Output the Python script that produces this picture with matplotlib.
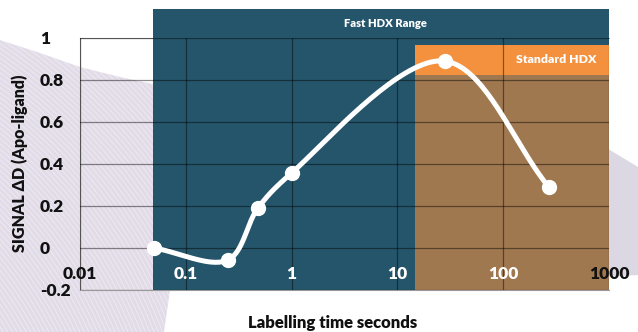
import numpy as np
import matplotlib
matplotlib.use('Agg')
import matplotlib.pyplot as plt
from matplotlib.patches import Polygon, Rectangle, Circle

plt.rcParams['font.family'] = ['Lato', 'DejaVu Sans']
plt.rcParams['font.weight'] = 'heavy'

# data
times = [0.05, 0.25, 0.48, 1.0, 28.0, 270.0]
signal = [0.0, -0.057, 0.19, 0.357, 0.89, 0.29]

xticks = [0.01, 0.1, 1, 10, 100, 1000]
xtick_labels = ['0.01', '0.1', '1', '10', '100', '1000']
yticks = [-0.2, 0, 0.2, 0.4, 0.6, 0.8, 1]
ytick_labels = ['-0.2', '0', '0.2', '0.4', '0.6', '0.8', '1']

fast_range = (0.049, 1000)
standard_range = (14.8, 1000)
standard_header = (0.824, 0.967)
top_band = 1.138

blue = '#25556a'
orange = '#f4913f'
brown = '#a07850'
lavender = '#e2dbe8'

fig = plt.figure(figsize=(6.38, 3.32), dpi=100)

# decorative background, in pixel units
bg = fig.add_axes([0, 0, 1, 1], zorder=0)
bg.set_xlim(0, 638)
bg.set_ylim(332, 0)
bg.axis('off')
swoosh = Polygon([(0, 40), (40, 53), (80, 67), (120, 77), (153, 84), (250, 100),
                  (250, 290), (170, 290), (164, 332), (0, 332)],
                 closed=True, fc=lavender, ec='none')
bg.add_patch(swoosh)
for r in np.arange(250, 760, 4):
    c = Circle((-320, 520), r, fill=False, ec='white', lw=0.5, alpha=0.55)
    bg.add_patch(c)
    c.set_clip_path(swoosh)
bg.add_patch(Polygon([(600, 144), (638, 167), (638, 275), (605, 277)],
                     closed=True, fc='#dcd8e3', ec='none'))

ax = fig.add_axes([80 / 638, 42 / 332, 529 / 638, 252 / 332], zorder=1)
ax.patch.set_alpha(0)
ax.set_xscale('log')
ax.set_xlim(0.01, 1000)
ax.set_ylim(-0.2, 1)

ax.add_patch(Rectangle((fast_range[0], -0.2), fast_range[1] - fast_range[0],
                       top_band + 0.2, fc=blue, ec='none', clip_on=False, zorder=1))
ax.add_patch(Rectangle((standard_range[0], -0.2), standard_range[1] - standard_range[0],
                       standard_header[0] + 0.2, fc=brown, ec='none', zorder=1.1))
ax.add_patch(Rectangle((standard_range[0], standard_header[0]),
                       standard_range[1] - standard_range[0],
                       standard_header[1] - standard_header[0],
                       fc=orange, ec='none', zorder=1.1))

ax.text(np.sqrt(fast_range[0] * fast_range[1]) * 1.1, (1 + top_band) / 2, 'Fast HDX Range',
        color='white', fontsize=8, ha='center', va='center')
ax.text(0.977, sum(standard_header) / 2, 'Standard HDX', color='white', fontsize=8.8,
        ha='right', va='center', transform=ax.get_yaxis_transform())

ax.set_xticks(xticks)
ax.set_xticklabels(xtick_labels)
ax.minorticks_off()
ax.set_yticks(yticks)
ax.set_yticklabels(ytick_labels)
ax.grid(True, color='black', alpha=0.45, lw=0.9)
ax.set_axisbelow(False)
ax.tick_params(length=0)
ax.tick_params(axis='y', pad=29, labelsize=12.5)
ax.tick_params(axis='x', pad=-17, labelsize=12.5)
for lab in ax.get_yticklabels():
    lab.set_horizontalalignment('left')
    lab.set_color('#111111')
for lab, t in zip(ax.get_xticklabels(), xticks):
    lab.set_color('#111111' if t in (0.01, 1000) else 'white')
    lab.set_zorder(5)
ax.spines['right'].set_visible(False)
for s in ['left', 'top', 'bottom']:
    ax.spines[s].set_color('#999999')
    ax.spines[s].set_zorder(0.5)

# smooth curve through the points (centripetal Catmull-Rom in display space)
pts = ax.transData.transform(np.column_stack([times, signal]))
P = np.vstack([2 * pts[0] - pts[1], pts, 2 * pts[-1] - pts[-2]])
curve = []
for i in range(1, len(P) - 2):
    p0, p1, p2, p3 = P[i - 1], P[i], P[i + 1], P[i + 2]
    t0 = 0.0
    t1 = t0 + np.linalg.norm(p1 - p0) ** 0.5
    t2 = t1 + np.linalg.norm(p2 - p1) ** 0.5
    t3 = t2 + np.linalg.norm(p3 - p2) ** 0.5
    tt = np.linspace(t1, t2, 40)[:, None]
    a1 = (t1 - tt) / (t1 - t0) * p0 + (tt - t0) / (t1 - t0) * p1
    a2 = (t2 - tt) / (t2 - t1) * p1 + (tt - t1) / (t2 - t1) * p2
    a3 = (t3 - tt) / (t3 - t2) * p2 + (tt - t2) / (t3 - t2) * p3
    b1 = (t2 - tt) / (t2 - t0) * a1 + (tt - t0) / (t2 - t0) * a2
    b2 = (t3 - tt) / (t3 - t1) * a2 + (tt - t1) / (t3 - t1) * a3
    curve.append((t2 - tt) / (t2 - t1) * b1 + (tt - t1) / (t2 - t1) * b2)
curve = ax.transData.inverted().transform(np.vstack(curve))
ax.plot(curve[:, 0], curve[:, 1], color='white', lw=3.6, zorder=4,
        solid_capstyle='round')
ax.plot(times, signal, 'o', color='white', ms=10, zorder=4)

fig.text(20 / 638, 1 - 163 / 332, 'SIGNAL ΔD (Apo-ligand)', rotation=90,
         ha='center', va='center', fontsize=11.5, color='#111111')
fig.text(333 / 638, 1 - 323 / 332, 'Labelling time seconds', ha='center',
         va='center', fontsize=12, color='#111111')

fig.savefig('out.png', dpi=100)
